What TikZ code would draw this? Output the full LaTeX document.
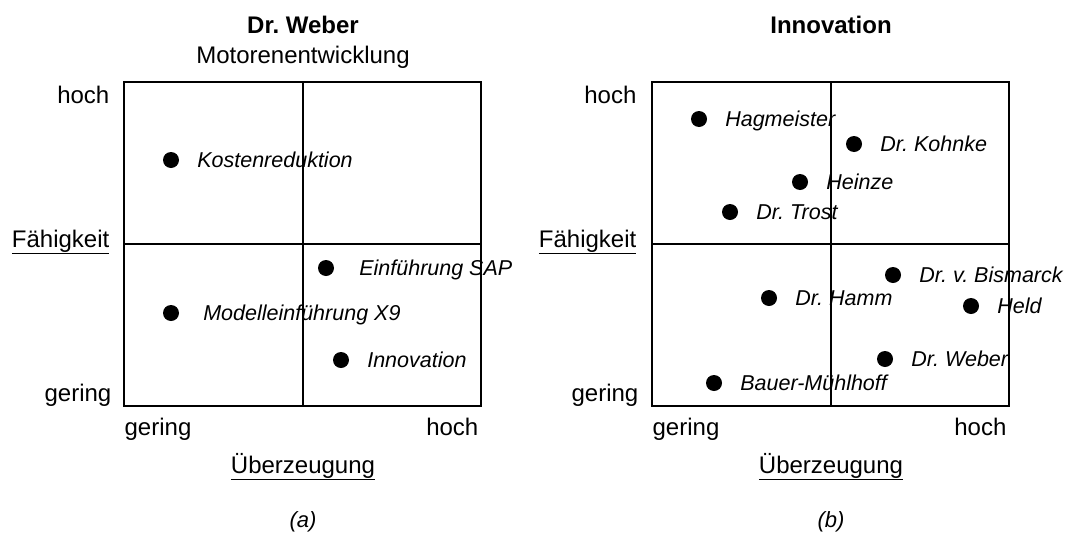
\documentclass[tikz,border=0pt]{standalone}
\usepackage{fontspec}
\setmainfont{Liberation Sans}
\usetikzlibrary{positioning}
\frenchspacing

\begin{document}
\begin{tikzpicture}[x=1pt,y=-1pt,line width=1.3pt,node distance=17pt,
                    font=\fontsize{24}{28}\selectfont]
  \tikzstyle{dot}=[circle,fill=black,inner sep=0pt,minimum size=16pt]
  \tikzstyle{item}=[inner sep=0pt,text height=14pt,text depth=0pt,
                    font=\fontsize{21.5}{25}\selectfont\itshape]
  \tikzstyle{lbl}=[inner sep=0pt]
  \useasboundingbox (0,0) rectangle (1069,536);

  % (a) Dr. Weber
  \draw (124,82) rectangle (481,406);
  \draw (303,82) -- (303,406);
  \draw (124,244) -- (481,244);

  \node[lbl,anchor=base] (ta) at (303,33) {\bfseries Dr. Weber};
  \node[lbl,anchor=base] (sa) at (303,63) {Motorenentwicklung};
  \node[lbl,anchor=base east] (hya) at (110,103) {hoch};
  \node[lbl,anchor=base east] (fya) at (110,247) {\underline{Fähigkeit}};
  \node[lbl,anchor=base east] (gya) at (112,401) {gering};
  \node[lbl,anchor=base west] (gxa) at (124,435) {gering};
  \node[lbl,anchor=base east] (hxa) at (479,435) {hoch};
  \node[lbl,anchor=base] (ua) at (303,473) {\underline{Überzeugung}};
  \node[lbl,anchor=base] (ca) at (303,527) {\fontsize{22}{26}\selectfont\itshape (a)};

  \node[dot] (K) at (171,160) {};
  \node[item,right=of K] {Kostenreduktion};
  \node[dot] (S) at (326,268) {};
  \node[item,right=24pt of S] {Einführung SAP};
  \node[dot] (M) at (171,313) {};
  \node[item,right=23pt of M] {Modelleinführung X9};
  \node[dot] (I) at (341,360) {};
  \node[item,right=of I] {Innovation};

  % (b) Innovation
  \draw (652,82) rectangle (1009,406);
  \draw (831,82) -- (831,406);
  \draw (652,244) -- (1009,244);

  \node[lbl,anchor=base] (tb) at (831,33) {\bfseries Innovation};
  \node[lbl,anchor=base east] (hyb) at (637,103) {hoch};
  \node[lbl,anchor=base east] (fyb) at (637,247) {\underline{Fähigkeit}};
  \node[lbl,anchor=base east] (gyb) at (639,401) {gering};
  \node[lbl,anchor=base west] (gxb) at (652,435) {gering};
  \node[lbl,anchor=base east] (hxb) at (1007,435) {hoch};
  \node[lbl,anchor=base] (ub) at (831,473) {\underline{Überzeugung}};
  \node[lbl,anchor=base] (cb) at (831,527) {\fontsize{22}{26}\selectfont\itshape (b)};

  \node[dot] (Hg) at (699,119) {};
  \node[item,right=of Hg] {Hagmeister};
  \node[dot] (Ko) at (854,144) {};
  \node[item,right=of Ko] {Dr. Kohnke};
  \node[dot] (He) at (800,182) {};
  \node[item,right=of He] {Heinze};
  \node[dot] (Tr) at (730,212) {};
  \node[item,right=of Tr] {Dr. Trost};
  \node[dot] (Bi) at (893,275) {};
  \node[item,right=of Bi] {Dr. v. Bismarck};
  \node[dot] (Ha) at (769,298) {};
  \node[item,right=of Ha] {Dr. Hamm};
  \node[dot] (Hd) at (971,306) {};
  \node[item,right=of Hd] {Held};
  \node[dot] (We) at (885,359) {};
  \node[item,right=of We] {Dr. Weber};
  \node[dot] (BM) at (714,383) {};
  \node[item,right=of BM] {Bauer-Mühlhoff};
\end{tikzpicture}
\end{document}
